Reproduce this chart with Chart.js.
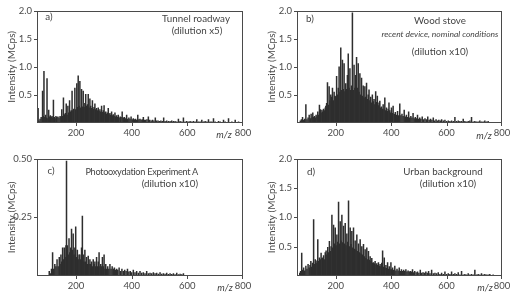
<!DOCTYPE html>
<html><head><meta charset="utf-8">
<script src="https://cdn.jsdelivr.net/npm/chart.js@4.4.1/dist/chart.umd.min.js"></script>
<style>
body{margin:0;background:#fff;width:516px;height:296px;position:relative;overflow:hidden;font-family:Lato,'Open Sans',sans-serif;color:#444}
canvas{position:absolute}
.t{position:absolute;white-space:nowrap;font-size:9.8px;line-height:1;transform:translate(-50%,-50%)}
.r{position:absolute;white-space:nowrap;font-size:9.8px;line-height:1;transform:translate(-100%,-50%)}
.i{font-style:italic}
</style></head><body>
<canvas id="ca" width="258" height="148" style="left:0;top:0"></canvas>
<canvas id="cb" width="256" height="148" style="left:260px;top:0"></canvas>
<canvas id="cc" width="258" height="148" style="left:0;top:148px"></canvas>
<canvas id="cd" width="256" height="148" style="left:260px;top:148px"></canvas>

<div class="t" style="left:49px;top:17px">a)</div>
<div class="t" style="left:196px;top:19px">Tunnel roadway</div>
<div class="t" style="left:197px;top:31px">(dilution x5)</div>
<div class="t i" style="left:224px;top:135px;font-size:9.5px">m/z</div>

<div class="t" style="left:310px;top:19px">b)</div>
<div class="t" style="left:440px;top:21px">Wood stove</div>
<div class="t i" style="left:440px;top:34px;font-size:8.5px">recent device, nominal conditions</div>
<div class="t" style="left:440px;top:52px">(dilution x10)</div>
<div class="t i" style="left:484px;top:136px;font-size:9.5px">m/z</div>

<div class="t" style="left:51px;top:171px">c)</div>
<div class="r" style="left:198px;top:172px;font-size:9.2px;letter-spacing:-0.3px">Photooxydation Experiment A</div>
<div class="r" style="left:198px;top:184px">(dilution x10)</div>
<div class="t i" style="left:225px;top:288px;font-size:9.5px">m/z</div>

<div class="t" style="left:311px;top:172px">d)</div>
<div class="t" style="left:443px;top:172px">Urban background</div>
<div class="t" style="left:448px;top:184px">(dilution x10)</div>
<div class="t i" style="left:485px;top:288px;font-size:9.5px">m/z</div>

<script>
const xTickValues = [200, 400, 600, 800];
const yTicksMain = [0.5, 1.0, 1.5, 2.0];
const yTicksC = [0.25, 0.50];

// Panel a: Tunnel roadway
const aMz = [
 64,67,71,75,80,83,85,88,91,94,
 96,99,102,105,108,111,114,117,119,122,
 125,128,131,135,139,143,146,149,152,155,
 158,162,165,168,171,174,177,180,183,186,
 189,192,196,199,203,205,208,211,214,217,
 220,223,226,229,232,235,238,241,244,247,
 250,253,256,259,262,265,268,271,274,277,
 280,283,286,289,292,295,298,301,304,307,
 310,313,316,319,322,325,328,331,334,337,
 340,343,346,349,352,355,359,362,366,370,
 374,378,382,386,390,394,398,402,406,410,
 414,418,422,426,430,434,438,442,446,450,
 455,460,465,470,475,480,485,490,495,500,
 505,510,515,520,526,532,538,544,550,556,
 562,568,574,580,586,592,598,604,610,616,
 622,628,634,640,646,652,658,664,670,676,
 682,688,694,700,706,712,718,724,730,736,
 742,748,754,760,766,772,778,784,790];
const aInt = [
 0.26,0.04,0.07,0.10,0.57,0.12,0.92,0.10,0.14,0.09,
 0.79,0.08,0.23,0.11,0.13,0.10,0.12,0.09,0.41,0.10,
 0.08,0.12,0.10,0.11,0.09,0.12,0.10,0.24,0.12,0.45,
 0.15,0.17,0.34,0.14,0.30,0.18,0.40,0.20,0.22,0.57,
 0.22,0.25,0.62,0.24,0.70,0.28,0.84,0.30,0.74,0.27,
 0.60,0.29,0.57,0.28,0.35,0.51,0.30,0.33,0.51,0.27,
 0.43,0.30,0.26,0.40,0.25,0.28,0.34,0.24,0.26,0.22,
 0.27,0.21,0.24,0.20,0.30,0.19,0.22,0.31,0.18,0.20,
 0.16,0.18,0.26,0.15,0.17,0.14,0.20,0.13,0.15,0.12,
 0.18,0.11,0.13,0.10,0.14,0.09,0.11,0.10,0.20,0.09,
 0.10,0.08,0.14,0.07,0.09,0.07,0.11,0.06,0.08,0.06,
 0.07,0.05,0.14,0.06,0.07,0.05,0.06,0.10,0.05,0.05,
 0.06,0.11,0.05,0.04,0.05,0.04,0.09,0.04,0.04,0.03,
 0.04,0.03,0.09,0.03,0.04,0.03,0.03,0.04,0.03,0.03,
 0.02,0.07,0.03,0.02,0.09,0.02,0.03,0.02,0.03,0.02,
 0.03,0.02,0.06,0.02,0.02,0.05,0.02,0.03,0.02,0.06,
 0.02,0.02,0.08,0.02,0.01,0.03,0.02,0.01,0.05,0.02,
 0.01,0.08,0.01,0.02,0.01,0.05,0.01,0.02,0.01];

// Panel b: Wood stove
const bMz = [
 72,76,80,84,88,92,96,100,104,108,
 111,114,117,120,123,126,129,132,135,138,
 141,144,147,150,153,156,159,162,164,167,
 170,173,176,179,182,185,188,191,194,197,
 200,203,206,209,212,215,218,221,224,227,
 230,233,236,239,242,245,248,251,254,257,
 260,263,266,269,272,275,278,281,284,287,
 290,293,296,299,302,305,308,311,314,317,
 320,323,326,329,332,335,338,341,344,347,
 350,353,356,359,362,365,368,371,374,377,
 380,383,386,389,392,395,398,401,404,407,
 411,415,419,423,427,431,435,439,443,447,
 451,455,459,463,467,471,475,479,483,487,
 491,495,499,503,507,512,517,522,527,532,
 537,542,547,552,557,562,567,572,577,582,
 588,594,600,606,612,618,624,630,636,642,
 648,654,660,666,672,678,684,690,696,702,
 708,714,720,726,732,738,744,750];
const bInt = [
 0.04,0.06,0.10,0.05,0.07,0.33,0.06,0.09,0.14,0.08,
 0.16,0.09,0.18,0.10,0.12,0.09,0.14,0.11,0.20,0.14,
 0.32,0.24,0.18,0.23,0.20,0.25,0.22,0.27,0.30,0.35,
 0.72,0.32,0.65,0.40,0.50,0.46,0.62,0.40,0.55,0.48,
 0.47,0.83,0.50,0.62,1.00,0.55,1.34,0.58,1.12,0.60,
 1.06,0.56,0.70,0.60,0.85,1.23,0.62,0.97,0.58,0.66,
 1.96,0.58,1.03,0.62,0.85,1.17,0.62,1.06,0.55,0.88,
 0.50,0.80,0.48,0.66,0.45,0.65,0.46,0.71,0.42,0.50,
 0.59,0.40,0.46,0.36,0.50,0.38,0.42,0.33,0.56,0.37,
 0.48,0.31,0.36,0.39,0.27,0.29,0.25,0.33,0.24,0.45,
 0.22,0.27,0.21,0.25,0.36,0.22,0.18,0.27,0.17,0.30,
 0.16,0.19,0.14,0.21,0.13,0.34,0.13,0.16,0.12,0.23,
 0.11,0.14,0.10,0.20,0.09,0.12,0.09,0.17,0.08,0.10,
 0.08,0.14,0.07,0.09,0.07,0.11,0.06,0.08,0.06,0.11,
 0.05,0.07,0.05,0.09,0.04,0.06,0.04,0.05,0.04,0.06,
 0.04,0.05,0.03,0.04,0.03,0.04,0.03,0.10,0.03,0.04,
 0.03,0.03,0.07,0.03,0.02,0.03,0.04,0.10,0.02,0.03,
 0.02,0.02,0.04,0.02,0.02,0.04,0.02,0.03];

// Panel c: Photooxydation Experiment A
const cMz = [
 104,108,112,116,120,124,128,132,136,140,
 143,146,149,152,155,158,161,164,166,169,
 172,175,178,181,184,187,190,193,196,199,
 202,205,208,211,214,217,220,223,226,229,
 232,235,238,241,244,247,250,253,256,259,
 262,265,268,271,274,277,280,283,286,289,
 292,295,298,301,304,307,310,314,318,322,
 326,330,334,338,342,346,350,355,360,365,
 370,375,380,385,390,395,400,406,412,418,
 424,430,436,442,448,454,460,466,472,478,
 484,490,496,502,508,514,520,526,532,538,
 544,550,556,562,568,574,580,586];
const cInt = [
 0.02,0.01,0.03,0.10,0.03,0.05,0.04,0.07,0.04,0.08,
 0.05,0.09,0.06,0.12,0.07,0.12,0.08,0.13,0.49,0.13,
 0.09,0.16,0.10,0.12,0.20,0.11,0.18,0.09,0.12,0.21,
 0.08,0.11,0.07,0.09,0.09,0.07,0.12,0.255,0.09,0.06,
 0.11,0.06,0.08,0.05,0.085,0.05,0.07,0.05,0.06,0.04,
 0.07,0.05,0.06,0.04,0.08,0.04,0.06,0.10,0.04,0.05,
 0.04,0.08,0.04,0.09,0.03,0.05,0.03,0.04,0.03,0.05,
 0.03,0.04,0.03,0.035,0.025,0.03,0.025,0.035,0.02,0.03,
 0.02,0.025,0.02,0.03,0.018,0.02,0.015,0.025,0.015,0.02,
 0.012,0.02,0.012,0.015,0.01,0.02,0.01,0.012,0.01,0.015,
 0.01,0.012,0.008,0.015,0.008,0.01,0.008,0.012,0.007,0.01,
 0.007,0.01,0.006,0.012,0.006,0.008,0.006,0.01];

// Panel d: Urban background
const dMz = [
 70,73,77,80,84,88,92,96,100,104,
 107,110,113,116,120,123,126,129,132,135,
 138,141,144,147,150,153,156,159,162,165,
 168,171,174,177,180,183,186,189,192,195,
 198,201,204,207,210,213,216,219,222,225,
 228,231,234,237,240,243,246,249,252,255,
 258,261,264,267,270,273,276,279,282,285,
 288,291,294,297,300,303,306,309,312,315,
 318,321,324,327,330,333,336,339,342,345,
 348,351,354,357,360,363,366,369,372,375,
 378,381,384,387,390,393,396,399,402,405,
 409,413,417,421,425,429,433,437,441,445,
 449,453,457,461,465,469,473,477,481,485,
 490,495,500,505,510,515,520,525,530,535,
 540,546,552,558,564,570,576,582,588,594,
 600,606,612,618,624,630,636,642,648,654,
 660,666,672,678,684,690,696,702,708,714,
 720,726,732,738,744,750,756,762,768];
const dInt = [
 0.05,0.08,0.39,0.10,0.14,0.09,0.17,0.12,0.20,0.14,
 0.18,0.25,0.15,0.22,0.96,0.20,0.28,0.22,0.26,0.62,
 0.25,0.31,0.28,0.39,0.30,0.31,0.35,0.28,0.40,0.43,
 0.36,0.49,0.40,0.59,0.42,0.50,1.04,0.48,0.87,0.55,
 0.82,0.52,0.70,0.58,1.26,0.55,0.93,0.60,1.04,0.57,
 0.85,0.55,0.90,0.52,0.72,0.58,1.28,0.50,0.82,0.54,
 0.76,0.48,0.82,0.46,0.60,0.44,0.70,0.42,0.55,0.40,
 0.62,0.38,0.50,0.36,0.54,0.33,0.45,0.30,0.48,0.28,
 0.42,0.27,0.33,0.25,0.30,0.22,0.23,0.21,0.25,0.19,
 0.21,0.18,0.23,0.17,0.20,0.16,0.22,0.43,0.15,0.31,
 0.14,0.18,0.13,0.23,0.12,0.16,0.11,0.23,0.11,0.14,
 0.10,0.17,0.09,0.12,0.09,0.14,0.08,0.11,0.08,0.10,
 0.08,0.11,0.07,0.09,0.07,0.08,0.07,0.11,0.06,0.08,
 0.06,0.07,0.05,0.10,0.05,0.06,0.05,0.07,0.05,0.08,
 0.04,0.10,0.04,0.05,0.04,0.06,0.03,0.05,0.03,0.07,
 0.03,0.04,0.03,0.07,0.03,0.04,0.03,0.06,0.02,0.08,
 0.02,0.03,0.02,0.04,0.02,0.03,0.02,0.10,0.02,0.03,
 0.02,0.04,0.02,0.03,0.02,0.02,0.03,0.01,0.02];

const AXIS = '#4a4a4a';
const FONT = {family: "Lato, 'Open Sans', sans-serif", size: 9.5};

// frame and tick marks drawn with filled rectangles
const frame = {
  id: 'frame',
  afterDraw(chart) {
    const {ctx, chartArea: a, scales} = chart;
    const l = Math.round(a.left), t = Math.round(a.top),
          r = Math.round(a.right), b = Math.round(a.bottom);
    ctx.save();
    ctx.fillStyle = AXIS;
    ctx.fillRect(l, t, r - l, 1);
    ctx.fillRect(l, b - 1, r - l, 1);
    ctx.fillRect(l, t, 1, b - t);
    ctx.fillRect(r - 1, t, 1, b - t);
    scales.y.ticks.forEach(tk => {
      const y = Math.round(scales.y.getPixelForValue(tk.value));
      ctx.fillRect(l - 3, Math.min(y, b - 1), 3, 1);
    });
    scales.x.ticks.forEach(tk => {
      const x = Math.round(scales.x.getPixelForValue(tk.value));
      ctx.fillRect(Math.min(x, r - 1), b, 1, 3);
    });
    ctx.restore();
  }
};

function panel(id, mz, vals, yMax, yTicks, dec, padTop, padRight, xH) {
  new Chart(document.getElementById(id), {
    type: 'bar',
    data: {datasets: [{
      data: mz.map((m, i) => ({x: m, y: vals[i]})),
      backgroundColor: '#2e2e2e',
      barThickness: 0.85,
      borderWidth: 0
    }]},
    options: {
      responsive: false, animation: false, devicePixelRatio: 1,
      layout: {padding: {top: padTop, right: padRight, left: 0, bottom: 0}},
      plugins: {legend: {display: false}, tooltip: {enabled: false}},
      scales: {
        x: {
          type: 'linear', min: 60, max: 800, offset: false,
          afterBuildTicks: s => { s.ticks = xTickValues.map(v => ({value: v})); },
          afterFit: s => { s.height = xH; },
          grid: {display: false, offset: false, drawTicks: false, tickLength: 0},
          border: {display: false},
          ticks: {color: AXIS, font: FONT, padding: 4, maxRotation: 0, autoSkip: false}
        },
        y: {
          min: 0, max: yMax,
          afterBuildTicks: s => { s.ticks = yTicks.map(v => ({value: v})); },
          afterFit: s => { s.width = 37; },
          grid: {display: false, drawTicks: false, tickLength: 0},
          border: {display: false},
          ticks: {color: AXIS, font: FONT, padding: 5, callback: v => Number(v).toFixed(dec)},
          title: {display: true, text: 'Intensity (MCps)', color: AXIS, font: {family: FONT.family, size: 10}, padding: {top: 6, bottom: 0}}
        }
      }
    },
    plugins: [frame]
  });
}

panel('ca', aMz, aInt, 2, yTicksMain, 1, 7, 15, 25);
panel('cb', bMz, bInt, 2, yTicksMain, 1, 7, 14, 25);
panel('cc', cMz, cInt, 0.5, yTicksC, 2, 10, 15, 20);
panel('cd', dMz, dInt, 2, yTicksMain, 1, 10, 14, 20);
</script>
</body></html>
